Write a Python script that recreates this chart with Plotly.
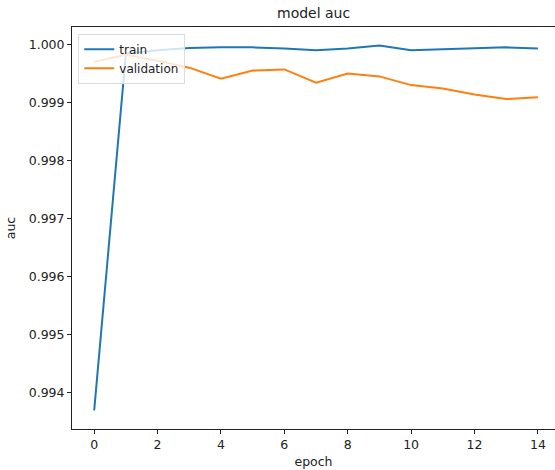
import plotly.graph_objects as go

epochs = list(range(15))
train_auc = [0.99370, 0.99984, 0.99990, 0.99994, 0.99995, 0.99995, 0.99993, 0.99990,
             0.99993, 0.99998, 0.99990, 0.99992, 0.99993, 0.99995, 0.99993]
val_auc = [0.99970, 0.99982, 0.99972, 0.99960, 0.99941, 0.99955, 0.99957, 0.99934,
           0.99950, 0.99945, 0.99930, 0.99924, 0.99914, 0.99906, 0.99909]
y_ticks = [0.994, 0.995, 0.996, 0.997, 0.998, 0.999, 1.000]
x_ticks = [0, 2, 4, 6, 8, 10, 12, 14]

FONT = "DejaVu Sans"

fig = go.Figure()
fig.add_trace(go.Scatter(x=epochs, y=train_auc, mode="lines", name="train",
                         line=dict(color="#1f77b4", width=2)))
fig.add_trace(go.Scatter(x=epochs, y=val_auc, mode="lines", name="validation",
                         line=dict(color="#ff7f0e", width=2)))

fig.update_layout(
    width=555, height=470,
    margin=dict(l=72, r=0, t=27, b=41),
    paper_bgcolor="white", plot_bgcolor="white",
    font=dict(family=FONT, size=12.5, color="#222"),
    showlegend=True,
    legend=dict(x=0.013, y=0.983, xanchor="left", yanchor="top",
                bgcolor="rgba(255,255,255,0.8)", bordercolor="#dcdcdc", borderwidth=1,
                font=dict(family=FONT, size=12, color="#222"),
                itemwidth=30, tracegroupgap=0),
    annotations=[
        dict(text="model auc", xref="paper", yref="paper", x=0.5, y=1, yshift=14,
             xanchor="center", yanchor="middle", showarrow=False,
             font=dict(family=FONT, size=14, color="#222")),
    ],
)
fig.update_xaxes(
    range=[-0.7, 14.54], tickvals=x_ticks, ticktext=[str(v) for v in x_ticks],
    showgrid=False, zeroline=False, showline=True, linecolor="#222", linewidth=1,
    mirror=True, ticks="outside", ticklen=4, tickcolor="#222",
    title=dict(text="epoch", standoff=6, font=dict(family=FONT, size=12.5)),
)
fig.update_yaxes(
    range=[0.99338, 1.00030], tickvals=y_ticks, ticktext=[f"{v:.3f}" for v in y_ticks],
    showgrid=False, zeroline=False, showline=True, linecolor="#222", linewidth=1,
    mirror=False, ticks="outside", ticklen=4, tickcolor="#222",
    title=dict(text="auc", standoff=10, font=dict(family=FONT, size=12.5)),
)

fig.write_html("out.html")
